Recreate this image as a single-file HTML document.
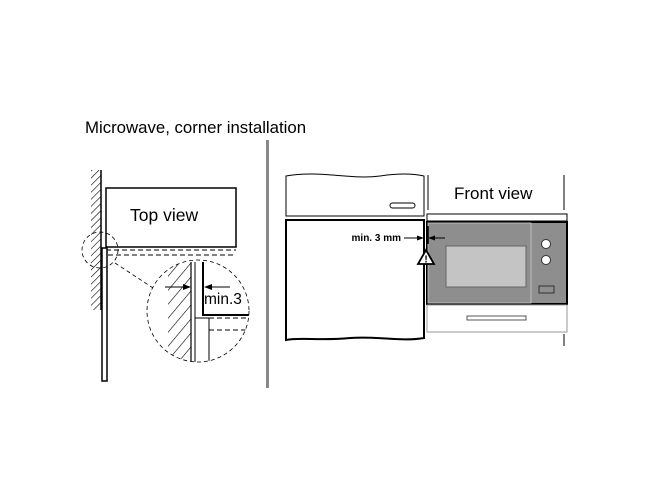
<!DOCTYPE html>
<html><head><style>html,body{margin:0;padding:0;background:#fff;}svg{display:block}</style></head>
<body>
<svg width="650" height="500" viewBox="0 0 650 500" xmlns="http://www.w3.org/2000/svg" font-family="Liberation Sans, Arial, sans-serif">
<defs>
<pattern id="h" width="5" height="5" patternUnits="userSpaceOnUse" patternTransform="rotate(45)">
<line x1="0" y1="0" x2="0" y2="5" stroke="#000" stroke-width="1.2"/>
</pattern>
<pattern id="h2" width="9" height="9" patternUnits="userSpaceOnUse" patternTransform="rotate(40)">
<line x1="0" y1="0" x2="0" y2="9" stroke="#000" stroke-width="1.2"/>
</pattern>
<clipPath id="cc"><circle cx="198" cy="311" r="51"/></clipPath>
</defs>
<rect width="650" height="500" fill="#fff"/>
<text x="85" y="133" font-size="16.8">Microwave, corner installation</text>
<rect x="266" y="140" width="3" height="248" fill="#888"/>

<rect x="91" y="170" width="10" height="140" fill="url(#h)"/>
<line x1="101" y1="170" x2="101" y2="310" stroke="#000" stroke-width="1.5"/>
<rect x="106" y="188" width="130" height="59" fill="#fff" stroke="#000" stroke-width="1.5"/>
<text x="130" y="221" font-size="17.5">Top view</text>
<line x1="106" y1="250" x2="236" y2="250" stroke="#000" stroke-dasharray="5,3"/>
<line x1="108" y1="255" x2="236" y2="255" stroke="#000" stroke-dasharray="5,3"/>
<rect x="102" y="248" width="5" height="133" fill="#fff" stroke="#000" stroke-width="1.5"/>
<circle cx="100" cy="250" r="18" fill="none" stroke="#000" stroke-dasharray="4,3" stroke-width="0.8"/>
<line x1="115" y1="263" x2="153" y2="288" stroke="#000" stroke-dasharray="4,3" stroke-width="0.8"/>
<g clip-path="url(#cc)">
<rect x="168" y="260" width="23" height="110" fill="url(#h2)"/>
<line x1="191" y1="262" x2="191" y2="368" stroke="#000" stroke-width="1.2"/>
<line x1="195" y1="262" x2="195" y2="368" stroke="#000" stroke-width="1"/>
<polyline points="203,262 203,315 255,315" fill="none" stroke="#000" stroke-width="2"/>
<rect x="195" y="318" width="14" height="55" fill="none" stroke="#000" stroke-width="1"/>
<line x1="209" y1="330" x2="255" y2="330" stroke="#000" stroke-dasharray="5,3"/>
<line x1="209" y1="318" x2="255" y2="318" stroke="#000" stroke-dasharray="5,3"/>
</g>
<circle cx="198" cy="311" r="51" fill="none" stroke="#000" stroke-dasharray="4,3" stroke-width="0.8"/>
<line x1="165" y1="287" x2="186" y2="287" stroke="#000"/>
<polygon points="191,287 183,284 183,290" fill="#000"/>
<line x1="209" y1="287" x2="230" y2="287" stroke="#000"/>
<polygon points="204,287 212,284 212,290" fill="#000"/>
<text x="204" y="304" font-size="15.5">min.3</text>

<path d="M286,176 C320,170 350,180 380,176 C400,173 415,174 424,176 L424,216 L286,216 Z" fill="#fff" stroke="#000" stroke-width="1"/>
<rect x="390" y="203" width="25" height="5" rx="2.5" fill="#fff" stroke="#000"/>
<path d="M286,220 L424,220 L424,338 C400,342 380,336 350,338 C320,341 300,337 286,340 Z" fill="#fff" stroke="#000" stroke-width="2"/>
<line x1="428" y1="175" x2="428" y2="210" stroke="#000"/>
<line x1="564" y1="175" x2="564" y2="210" stroke="#000"/>
<line x1="564" y1="334" x2="564" y2="346" stroke="#000"/>
<text x="454" y="199" font-size="17">Front view</text>
<rect x="427" y="214" width="140" height="7" fill="#fff" stroke="#000" stroke-width="1"/>
<rect x="427" y="222" width="140" height="82" fill="#8e8e8e" stroke="#000" stroke-width="2"/>
<rect x="428" y="223" width="103" height="80" fill="#8e8e8e" stroke="#ccc" stroke-width="0.8"/>
<rect x="446" y="246" width="80" height="41" fill="#c4c4c4" stroke="#666"/>
<circle cx="546" cy="244" r="4.5" fill="#fff" stroke="#333"/>
<circle cx="546" cy="260" r="4.5" fill="#fff" stroke="#333"/>
<rect x="539" y="286" width="15" height="7" fill="#8e8e8e" stroke="#333"/>
<rect x="427" y="305" width="140" height="27" fill="#fff" stroke="#999" stroke-width="1"/>
<rect x="467" y="316" width="59" height="4" fill="#fff" stroke="#555"/>
<line x1="424" y1="226" x2="424" y2="244" stroke="#000" stroke-width="1.5"/>
<line x1="428" y1="226" x2="428" y2="244" stroke="#000" stroke-width="1.5"/>
<line x1="404" y1="238" x2="420" y2="238" stroke="#000"/>
<polygon points="424,238 417,235.5 417,240.5" fill="#000"/>
<line x1="433" y1="238" x2="445" y2="238" stroke="#000"/>
<polygon points="428,238 435,235.5 435,240.5" fill="#000"/>
<text x="401" y="241" font-size="10" font-weight="bold" text-anchor="end">min. 3 mm</text>
<polygon points="426,250 418,264 434,264" fill="#fff" stroke="#000" stroke-width="1.8"/>
<text x="426" y="262.5" font-size="10" font-weight="bold" text-anchor="middle">!</text>
</svg>
</body></html>
